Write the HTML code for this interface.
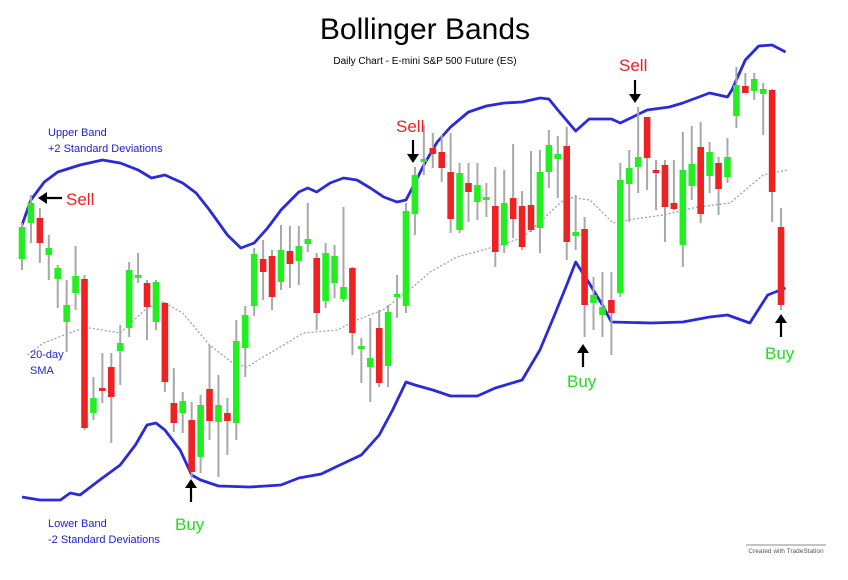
<!DOCTYPE html>
<html><head><meta charset="utf-8"><style>
html,body{margin:0;padding:0;background:#fff;}
svg{display:block;font-family:"Liberation Sans",sans-serif;}
</style></head><body>
<svg id="chart" width="848" height="580" viewBox="0 0 848 580">
<text x="425" y="39" font-size="30" text-anchor="middle" fill="#000">Bollinger Bands</text>
<text x="425" y="64" font-size="10" text-anchor="middle" fill="#000">Daily Chart - E-mini S&amp;P 500 Future (ES)</text>
<g id="bands"></g>
<g id="candles"></g>
<g font-size="11" fill="#2020d0">
<text x="48" y="136">Upper Band</text>
<text x="48" y="152">+2 Standard Deviations</text>
<text x="30" y="358">20-day</text>
<text x="30" y="374">SMA</text>
<text x="48" y="527">Lower Band</text>
<text x="48" y="543">-2 Standard Deviations</text>
</g>
<g font-size="17">
<text x="66" y="205" fill="#ee2020">Sell</text>
<path d="M62 198 H44" stroke="#000" stroke-width="2.2" fill="none"/>
<path d="M38 198 L47 192 L47 204 Z" fill="#000"/>
<text x="396" y="132" fill="#ee2020">Sell</text>
<path d="M413 140 V156" stroke="#000" stroke-width="2.2" fill="none"/>
<path d="M413 163 L407 154 L419 154 Z" fill="#000"/>
<text x="619" y="71" fill="#ee2020">Sell</text>
<path d="M635 80 V96" stroke="#000" stroke-width="2.2" fill="none"/>
<path d="M635 103 L629 94 L641 94 Z" fill="#000"/>
<text x="175" y="530" fill="#22dd22">Buy</text>
<path d="M191 502 V486" stroke="#000" stroke-width="2.2" fill="none"/>
<path d="M191 479 L185 488 L197 488 Z" fill="#000"/>
<text x="567" y="387" fill="#22dd22">Buy</text>
<path d="M583 367 V351" stroke="#000" stroke-width="2.2" fill="none"/>
<path d="M583 344 L577 353 L589 353 Z" fill="#000"/>
<text x="765" y="359" fill="#22dd22">Buy</text>
<path d="M781 337 V321" stroke="#000" stroke-width="2.2" fill="none"/>
<path d="M781 314 L775 323 L787 323 Z" fill="#000"/>
</g>
<line x1="746" y1="545" x2="826" y2="545" stroke="#888" stroke-width="1"/>
<text x="786" y="553" font-size="6.5" text-anchor="middle" fill="#555">Created with TradeStation</text>
</svg>
<script>
const opens=[341,377,382,345,321,278,307,321,187,212,233,249,272,323,317,278,297,197,187,180,143,211,178,187,177,252,294,341,344,318,349,339,356,342,299,317,301,332,251,233,272,234,304,294,386,439,452,448,428,370,417,398,401,394,355,402,394,395,372,428,441,454,364,371,297,285,300,307,416,433,483,430,435,397,355,414,453,424,437,423,484,514,509,506,510,373];
const highs=[377,405,392,365,335,320,354,325,223,247,247,275,338,347,320,320,298,232,208,198,205,255,225,202,280,294,352,360,350,375,374,374,397,347,357,355,393,333,262,282,290,295,325,397,433,475,467,465,467,437,437,437,417,433,430,456,409,449,450,470,464,473,405,383,323,328,328,437,450,493,483,440,440,440,468,474,478,458,443,462,533,527,527,517,511,392];
const lows=[330,357,337,320,292,248,290,170,180,197,157,215,263,317,260,270,208,168,167,122,127,160,123,145,160,223,284,300,290,310,312,315,348,270,292,302,298,245,217,198,213,213,282,287,365,425,432,418,367,367,378,380,383,333,347,362,350,368,347,412,402,340,350,263,270,263,245,303,378,407,410,390,358,390,333,400,377,407,385,417,472,507,500,465,378,290];
const closes=[373,397,357,352,332,295,324,172,202,209,203,257,330,325,293,318,218,177,199,128,195,179,195,179,259,285,346,328,303,350,336,354,361,287,347,344,313,267,254,242,217,288,306,389,425,441,446,432,381,427,408,415,403,348,397,381,353,370,428,455,446,358,368,295,305,293,287,420,432,443,442,427,393,391,430,436,386,448,411,443,515,507,521,511,408,295];
const upperIdx=[0,1,2.5,4,6.5,9,11,13,14.5,16,18,19.5,21,23,24.5,26,27.5,29,31,32,33,34.5,36,37.5,39,40.5,42,43,44,45,46.5,48,50,52,54,56,58,59,60,62,63.5,66,67,70,72.5,74,77,79,79.5,81,82.5,84,85.5];
const upperVals=[375,400,418,428,435,440,437,430,422,425,417,407,390,365,352,357,372,390,408,412,408,417,422,420,412,403,398,400,417,435,458,473,488,494,497,498,502,501,490,469,481,481,477,490,493,497,507,503,510,540,554,555,548];
const lowerIdx=[0,2,4.3,5.4,6.5,8.7,11,12.7,14,15,16,17.7,19,20,22,25.5,29,31,33.5,35.6,38,40,41.5,43,44,46,48,51,53,56,58,59.5,61,62,63.5,65,66,70.5,74,77,79,81.5,83.5,85.5];
const lowerVals=[103,100,100,107,105,120,135,155,175,177,170,150,125,120,114,113,115,122,126,135,145,165,190,218,215,210,204,204,212,220,250,282,315,338,317,295,278,277,278,283,285,277,305,312];
const smaIdx=[0.6,2.4,6.2,7.6,11,14,15.8,18,21,23.6,25.2,27,28.9,31.5,35.3,37.5,40.4,43.4,45.7,48.7,52.4,56,58,61,63.6,66.2,67.8,71.8,75.6,79.3,83,85.7];
const smaVals=[245,257,270,272,267,292,298,287,255,237,233,243,253,267,270,280,290,310,328,343,352,362,378,403,400,377,380,385,393,397,425,430];

const NS='http://www.w3.org/2000/svg';
const x0=22, step=8.93;
function xScale(i){return x0+i*step;}
function yScale(p){return 600-p;}
function pathFrom(idx,vals){return idx.map((v,k)=>(k?'L':'M')+xScale(v).toFixed(1)+' '+yScale(vals[k]).toFixed(1)).join(' ');}

const bands=document.getElementById('bands');
const sma=document.createElementNS(NS,'path');


sma.setAttribute('d',pathFrom(smaIdx,smaVals));
sma.setAttribute('stroke','#a0a0b0');sma.setAttribute('stroke-width','1.3');sma.setAttribute('stroke-dasharray','2 2');sma.setAttribute('fill','none');
bands.appendChild(sma);
const up=document.createElementNS(NS,'path');


up.setAttribute('d',pathFrom(upperIdx,upperVals));
up.setAttribute('stroke','#2a2ad8');up.setAttribute('stroke-width','2.8');up.setAttribute('fill','none');up.setAttribute('stroke-linejoin','round');
bands.appendChild(up);
const lo=document.createElementNS(NS,'path');


lo.setAttribute('d',pathFrom(lowerIdx,lowerVals));
lo.setAttribute('stroke','#2a2ad8');lo.setAttribute('stroke-width','2.8');lo.setAttribute('fill','none');lo.setAttribute('stroke-linejoin','round');
bands.appendChild(lo);

const cg=document.getElementById('candles');
opens.forEach((o,i)=>{
  const c=closes[i],h=highs[i],l=lows[i];
  const x=xScale(i);
  const g=document.createElementNS(NS,'g');
  
  
  const w=document.createElementNS(NS,'line');
  
  
  w.setAttribute('x1',x);w.setAttribute('x2',x);w.setAttribute('y1',yScale(h));w.setAttribute('y2',yScale(l));
  w.setAttribute('stroke','#a8a8a8');w.setAttribute('stroke-width','2');
  g.appendChild(w);
  const b=document.createElementNS(NS,'rect');
  
  
  const top=yScale(Math.max(o,c)),bh=Math.max(3,Math.abs(o-c));
  b.setAttribute('x',x-3.3);b.setAttribute('width',6.6);b.setAttribute('y',top);b.setAttribute('height',bh);
  b.setAttribute('fill',c>=o?'#22ee22':'#ee2222');
  g.appendChild(b);
  cg.appendChild(g);
});
</script>
</body></html>
